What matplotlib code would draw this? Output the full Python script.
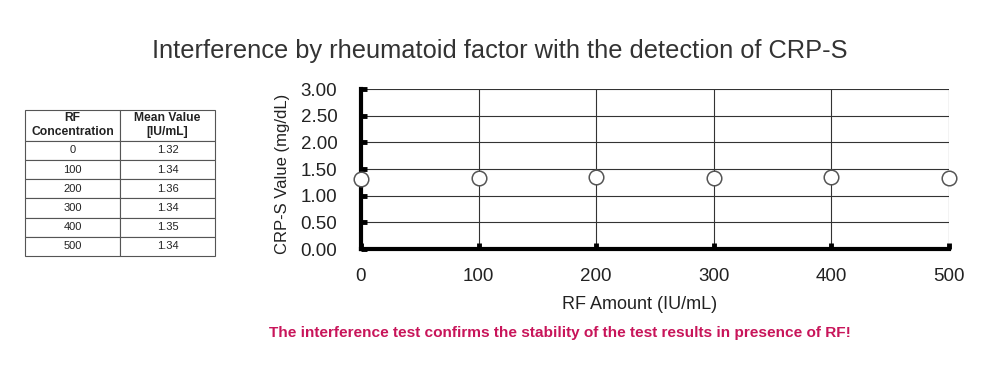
import matplotlib.pyplot as plt

rf_amount = [0, 100, 200, 300, 400, 500]
crp_value = [1.32, 1.34, 1.36, 1.34, 1.35, 1.34]
table_header = ["RF\nConcentration", "Mean Value\n[IU/mL]"]
table_rf = ["0", "100", "200", "300", "400", "500"]
table_mean = ["1.32", "1.34", "1.36", "1.34", "1.35", "1.34"]
y_ticks = [0.0, 0.5, 1.0, 1.5, 2.0, 2.5, 3.0]

plt.rcParams['font.family'] = ['Liberation Sans', 'DejaVu Sans']

fig = plt.figure(figsize=(10, 3.7), dpi=100)
fig.text(0.5, 0.862, "Interference by rheumatoid factor with the detection of CRP-S",
         ha='center', va='center', fontsize=18.3, color='#333333')

# main plot
ax = fig.add_axes([0.361, 0.327, 0.588, 0.432])
ax.set_xlim(0, 500)
ax.set_ylim(0, 3)
ax.set_xticks(rf_amount)
ax.set_yticks(y_ticks)
ax.set_yticklabels(["{:.2f}".format(v) for v in y_ticks])
ax.grid(True, color='#333333', linewidth=0.8)
ax.set_axisbelow(True)
for s in ['top', 'right']:
    ax.spines[s].set_visible(False)
for s in ['left', 'bottom']:
    ax.spines[s].set_linewidth(3)
    ax.spines[s].set_color('black')
    ax.spines[s].set_zorder(3)
ax.tick_params(axis='both', direction='in', length=4, width=3.5, color='black',
               labelsize=13.5, labelcolor='#222222')
ax.tick_params(axis='y', pad=17)
ax.tick_params(axis='x', pad=14)
ax.plot(rf_amount, crp_value, linestyle='none', marker='o', markersize=10.5,
        markerfacecolor='white', markeredgecolor='#555555', markeredgewidth=1.1,
        clip_on=False, zorder=5)
ax.set_ylabel("CRP-S Value (mg/dL)", fontsize=12, color='#222222')
ax.yaxis.set_label_coords(-0.121, 0.47)
ax.set_xlabel("RF Amount (IU/mL)", fontsize=13, color='#222222')
ax.xaxis.set_label_coords((640 - 361) / 588, -0.296)

fig.text(0.56, 0.1, "The interference test confirms the stability of the test results in presence of RF!",
         ha='center', va='center', fontsize=11.1, fontweight='bold', color='#c8155a')

# data table on the left
tax = fig.add_axes([0.025, 0.308, 0.19, 0.395])
tax.axis('off')
cells = [[a, b] for a, b in zip(table_rf, table_mean)]
tbl = tax.table(cellText=cells, colLabels=table_header, cellLoc='center',
                bbox=[0, 0, 1, 1])
tbl.auto_set_font_size(False)
for (r, c), cell in tbl.get_celld().items():
    cell.set_edgecolor('#555555')
    cell.set_linewidth(0.8)
    cell.get_text().set_fontsize(8)
    cell.get_text().set_color('#222222')
    if r == 0:
        cell.set_height(31)
        cell.get_text().set_fontsize(8.7)
        cell.get_text().set_fontweight('bold')
    else:
        cell.set_height(19.2)

fig.savefig("out.png", dpi=100)
